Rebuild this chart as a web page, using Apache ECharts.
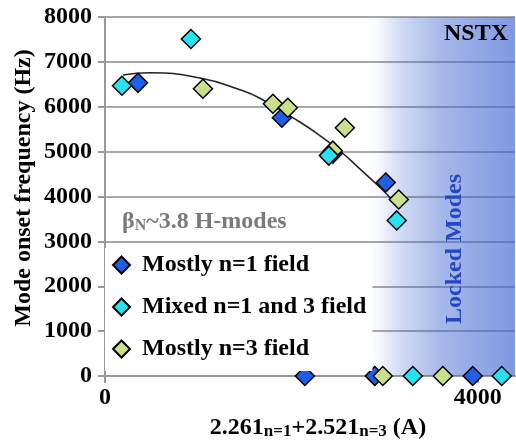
<!DOCTYPE html>
<html>
<head>
<meta charset="utf-8">
<script src="https://cdn.jsdelivr.net/npm/echarts@6/dist/echarts.min.js"></script>
<style>html,body{margin:0;padding:0;background:#fff}#c{width:516px;height:443px}</style>
</head>
<body>
<div id="c"></div>
<script>
// Data
var seriesNames = ['Mostly n=1 field', 'Mixed n=1 and 3 field', 'Mostly n=3 field'];
var n1X = [354, 1898, 2445, 3013, 2145, 2895, 3946];
var n1Y = [6533, 5756, 4956, 4311, 0, 0, 0];
var mixX = [182, 922, 2402, 3131, 3303, 4257];
var mixY = [6467, 7511, 4911, 3467, 0, 0];
var n3X = [1051, 1802, 1962, 2574, 2445, 3153, 2981, 3625];
var n3Y = [6400, 6067, 5978, 5533, 5022, 3933, 0, 0];
var fitX = [193, 483, 1019, 1448, 1662, 2091, 2306, 2520, 2735, 2949, 3088];
var fitY = [6710, 6756, 6640, 6380, 6190, 5660, 5356, 5020, 4615, 4205, 3911];
var yTicks = [0, 1000, 2000, 3000, 4000, 5000, 6000, 7000, 8000];
var xTickLabels = [0, 4000];
var lockedRange = [2800, 4400];

function zip(a, b) { return a.map(function (v, i) { return [v, b[i]]; }); }

var FONT = '"Liberation Serif", "Times New Roman", serif';
var chart = echarts.init(document.getElementById('c'), null, { renderer: 'canvas' });

var mk = function (name, xs, ys, color, z) {
  return {
    name: name, type: 'scatter', symbol: 'diamond', symbolSize: 19, z: z,
    itemStyle: { color: color, borderColor: '#000', borderWidth: 1.5, opacity: 1 },
    data: zip(xs, ys)
  };
};

chart.setOption({
  animation: false,
  grid: { left: 105, top: 17, right: 1, bottom: 67, containLabel: false },
  xAxis: {
    type: 'value', min: 0, max: 4400, interval: 4000,
    axisLine: { show: true, onZero: false, lineStyle: { color: '#999', width: 2 } },
    axisTick: { show: true, length: 7, lineStyle: { color: '#999', width: 2 } },
    splitLine: { show: false },
    axisLabel: {
      margin: 10, showMaxLabel: false,
      fontFamily: FONT, fontWeight: 'bold', fontSize: 24, color: '#000',
      formatter: function (v) { return xTickLabels.indexOf(v) >= 0 ? String(v) : ''; }
    }
  },
  yAxis: {
    type: 'value', min: yTicks[0], max: yTicks[yTicks.length - 1], interval: 1000,
    axisLine: { show: true, lineStyle: { color: '#999', width: 2 } },
    axisTick: { show: true, length: 7, lineStyle: { color: '#999', width: 2 } },
    splitLine: { show: true, lineStyle: { color: '#a8a8a8', width: 2 } },
    axisLabel: { margin: 13, fontFamily: FONT, fontWeight: 'bold', fontSize: 24, color: '#000',
      formatter: function (v) { return String(v); } }
  },
  legend: {
    data: seriesNames,
    orient: 'vertical', left: 105, top: 248,
    backgroundColor: '#fff',
    padding: [5, 6, 10, 7],
    itemWidth: 17, itemHeight: 17, itemGap: 18,
    textStyle: { fontFamily: FONT, fontWeight: 'bold', fontSize: 24, color: '#000', lineHeight: 24, padding: [0, 0, 0, 7] }
  },
  graphic: [
    { type: 'text', left: 444, top: 22, z: 100,
      style: { text: 'NSTX', font: 'bold 24px ' + FONT, fill: '#000' } },
    { type: 'text', x: 455, y: 249, rotation: Math.PI / 2, z: 100,
      style: { text: 'Locked Modes', font: 'bold 24px ' + FONT, fill: '#2448c0', align: 'center', verticalAlign: 'middle' } },
    { type: 'text', x: 24, y: 188, rotation: Math.PI / 2, z: 100,
      style: { text: 'Mode onset frequency (Hz)', font: 'bold 24px ' + FONT, fill: '#000', align: 'center', verticalAlign: 'middle' } },
    { type: 'text', x: 122, y: 222, z: 100,
      style: {
        text: '{a|β}{s|N}{a|~3.8 H-modes}', verticalAlign: 'middle', fill: '#7a7a7a',
        rich: {
          a: { fontFamily: FONT, fontWeight: 'bold', fontSize: 24, fill: '#7a7a7a', lineHeight: 24, verticalAlign: 'bottom' },
          s: { fontFamily: FONT, fontWeight: 'bold', fontSize: 16, fill: '#7a7a7a', lineHeight: 16, verticalAlign: 'bottom' }
        }
      } },
    { type: 'text', x: 318, y: 428, z: 100,
      style: {
        text: '{a|2.261}{s|n=1}{a|+2.521}{s|n=3}{a| (A)}', align: 'center', verticalAlign: 'middle', fill: '#000',
        rich: {
          a: { fontFamily: FONT, fontWeight: 'bold', fontSize: 24, fill: '#000', lineHeight: 24, verticalAlign: 'bottom' },
          s: { fontFamily: FONT, fontWeight: 'bold', fontSize: 17, fill: '#000', lineHeight: 14, verticalAlign: 'bottom' }
        }
      } }
  ],
  series: [
    {
      name: 'locked', type: 'line', data: [], z: 1, silent: true,
      markArea: {
        silent: true,
        itemStyle: {
          color: {
            type: 'linear', x: 0, y: 0, x2: 1, y2: 0,
            colorStops: [
              { offset: 0, color: 'rgba(60,100,210,0)' },
              { offset: 0.08, color: 'rgba(60,100,210,0.04)' },
              { offset: 0.25, color: 'rgba(60,100,210,0.25)' },
              { offset: 0.5, color: 'rgba(60,100,210,0.45)' },
              { offset: 1, color: 'rgba(60,100,210,0.66)' }
            ]
          }
        },
        data: [[{ xAxis: lockedRange[0], yAxis: 0 }, { xAxis: lockedRange[1], yAxis: 8000 }]]
      }
    },
    {
      name: 'fit', type: 'line', smooth: 0.5, symbol: 'none', z: 2,
      lineStyle: { color: '#222', width: 1.5 },
      data: zip(fitX, fitY)
    },
    mk(seriesNames[0], n1X, n1Y, '#1d5fe6', 3),
    mk(seriesNames[1], mixX, mixY, '#27e3f2', 5),
    mk(seriesNames[2], n3X, n3Y, '#c9e08a', 4)
  ]
});
</script>
</body>
</html>
